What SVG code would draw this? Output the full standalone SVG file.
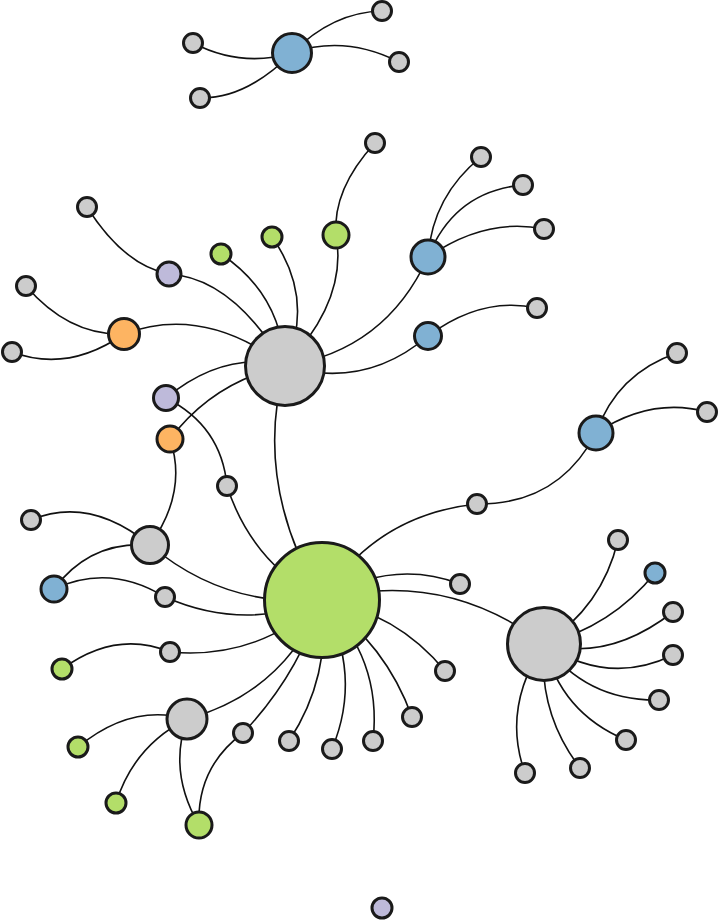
<svg xmlns="http://www.w3.org/2000/svg" width="720" height="921" viewBox="0 0 720 921">
<style>
.e{fill:none;stroke:#111;stroke-width:1.6}
circle{stroke:#1a1a1a;stroke-width:3}
.g{fill:#cccccc}.b{fill:#80b1d3}.gr{fill:#b3de69}.o{fill:#fdb462}.p{fill:#bebada}
</style>
<rect width="720" height="921" fill="#fff"/>
<g id="links">
<path class="e" d="M292,53 Q241.5,68 193,43"/>
<path class="e" d="M292,53 Q246,99 200,98"/>
<path class="e" d="M292,53 Q333,12 382,11"/>
<path class="e" d="M292,53 Q344.5,34.5 399,62"/>
<path class="e" d="M285,366 Q233,278 169,274"/>
<path class="e" d="M169,274 Q124,265.5 87,207"/>
<path class="e" d="M285,366 Q203.5,304 124,334"/>
<path class="e" d="M124,334 Q69,336 26,286"/>
<path class="e" d="M124,334 Q68,373 12,352"/>
<path class="e" d="M285,366 Q281,294 221,254"/>
<path class="e" d="M285,366 Q315.5,298.5 272,237"/>
<path class="e" d="M285,366 Q348,300 336,235"/>
<path class="e" d="M336,235 Q332.5,189 375,143"/>
<path class="e" d="M285,366 Q385.5,350.5 428,257"/>
<path class="e" d="M285,366 Q364.5,390 428,336"/>
<path class="e" d="M428,336 Q481.5,296 537,308"/>
<path class="e" d="M428,257 Q432.5,196 481,157"/>
<path class="e" d="M428,257 Q454.5,191 523,185"/>
<path class="e" d="M428,257 Q486,217 544,229"/>
<path class="e" d="M285,366 Q252.5,483 322,600"/>
<path class="e" d="M285,366 Q224.5,350 166,398"/>
<path class="e" d="M285,366 Q213.9,381 170,439"/>
<path class="e" d="M166,398 Q221.5,426 227,486"/>
<path class="e" d="M227,486 Q251.5,562 322,600"/>
<path class="e" d="M170,439 Q188,492 150,545"/>
<path class="e" d="M150,545 Q89.5,495.5 31,520"/>
<path class="e" d="M150,545 Q90,540.5 54,589"/>
<path class="e" d="M54,589 Q109.5,563 165,597"/>
<path class="e" d="M150,545 Q224.6,608 322,600"/>
<path class="e" d="M165,597 Q243.5,631.5 322,600"/>
<path class="e" d="M322,600 Q257.6,660 170,652"/>
<path class="e" d="M170,652 Q116,629.5 62,669"/>
<path class="e" d="M322,600 Q283.5,692.5 187,719"/>
<path class="e" d="M187,719 Q131.5,703 78,747"/>
<path class="e" d="M187,719 Q133.7,746 116,803"/>
<path class="e" d="M187,719 Q168,772 199,825"/>
<path class="e" d="M322,600 Q297.9,675.5 243,733"/>
<path class="e" d="M243,733 Q196.7,767.4 199,825"/>
<path class="e" d="M322,600 Q331.4,676.6 289,741"/>
<path class="e" d="M322,600 Q363,674.5 332,749"/>
<path class="e" d="M322,600 Q382.3,658 373,741"/>
<path class="e" d="M322,600 Q385.8,644 412,717"/>
<path class="e" d="M322,600 Q397,612.3 445,671"/>
<path class="e" d="M322,600 Q391,558 460,584"/>
<path class="e" d="M322,600 Q443.6,568 544,644"/>
<path class="e" d="M322,600 Q376.3,514.6 477,504"/>
<path class="e" d="M477,504 Q558.3,505 596,433"/>
<path class="e" d="M596,433 Q617,373.4 677,353"/>
<path class="e" d="M596,433 Q651.5,396.5 707,412"/>
<path class="e" d="M544,644 Q602.2,607 618,540"/>
<path class="e" d="M544,644 Q611.3,627 655,573"/>
<path class="e" d="M544,644 Q608.5,662 673,612"/>
<path class="e" d="M544,644 Q608.5,686.5 673,655"/>
<path class="e" d="M544,644 Q587,701.4 659,700"/>
<path class="e" d="M544,644 Q560.6,712.8 626,740"/>
<path class="e" d="M544,644 Q538,713 580,768"/>
<path class="e" d="M544,644 Q501.5,708.5 525,773"/>
</g>
<g id="n1"><circle class="b" cx="292" cy="53" r="19.5"/></g>
<g id="n2"><circle class="g" cx="193" cy="43" r="9.5"/></g>
<g id="n3"><circle class="g" cx="200" cy="98" r="9.5"/></g>
<g id="n4"><circle class="g" cx="382" cy="11" r="9.5"/></g>
<g id="n5"><circle class="g" cx="399" cy="62" r="9.5"/></g>
<g id="n6"><circle class="g" cx="285" cy="366" r="39.5"/></g>
<g id="n7"><circle class="p" cx="169" cy="274" r="12"/></g>
<g id="n8"><circle class="g" cx="87" cy="207" r="9.5"/></g>
<g id="n9"><circle class="g" cx="26" cy="286" r="9.5"/></g>
<g id="n10"><circle class="o" cx="124" cy="334" r="15.5"/></g>
<g id="n11"><circle class="g" cx="12" cy="352" r="9.5"/></g>
<g id="n12"><circle class="gr" cx="221" cy="254" r="10"/></g>
<g id="n13"><circle class="gr" cx="272" cy="237" r="10"/></g>
<g id="n14"><circle class="gr" cx="336" cy="235" r="13"/></g>
<g id="n15"><circle class="g" cx="375" cy="143" r="9.5"/></g>
<g id="n16"><circle class="b" cx="428" cy="257" r="17"/></g>
<g id="n17"><circle class="g" cx="481" cy="157" r="9.5"/></g>
<g id="n18"><circle class="g" cx="523" cy="185" r="9.5"/></g>
<g id="n19"><circle class="g" cx="544" cy="229" r="9.5"/></g>
<g id="n20"><circle class="b" cx="428" cy="336" r="13.5"/></g>
<g id="n21"><circle class="g" cx="537" cy="308" r="9.5"/></g>
<g id="n22"><circle class="p" cx="166" cy="398" r="12.5"/></g>
<g id="n23"><circle class="o" cx="170" cy="439" r="13"/></g>
<g id="n24"><circle class="g" cx="227" cy="486" r="9.5"/></g>
<g id="n25"><circle class="g" cx="150" cy="545" r="18.5"/></g>
<g id="n26"><circle class="g" cx="31" cy="520" r="9.5"/></g>
<g id="n27"><circle class="b" cx="54" cy="589" r="13"/></g>
<g id="n28"><circle class="g" cx="165" cy="597" r="9.5"/></g>
<g id="n29"><circle class="gr" cx="322" cy="600" r="57.5"/></g>
<g id="n30"><circle class="g" cx="170" cy="652" r="9.5"/></g>
<g id="n31"><circle class="gr" cx="62" cy="669" r="10"/></g>
<g id="n32"><circle class="g" cx="187" cy="719" r="20"/></g>
<g id="n33"><circle class="gr" cx="78" cy="747" r="10"/></g>
<g id="n34"><circle class="gr" cx="116" cy="803" r="10"/></g>
<g id="n35"><circle class="gr" cx="199" cy="825" r="13"/></g>
<g id="n36"><circle class="g" cx="243" cy="733" r="9.5"/></g>
<g id="n37"><circle class="g" cx="289" cy="741" r="9.5"/></g>
<g id="n38"><circle class="g" cx="332" cy="749" r="9.5"/></g>
<g id="n39"><circle class="g" cx="373" cy="741" r="9.5"/></g>
<g id="n40"><circle class="g" cx="412" cy="717" r="9.5"/></g>
<g id="n41"><circle class="g" cx="445" cy="671" r="9.5"/></g>
<g id="n42"><circle class="g" cx="460" cy="584" r="9.5"/></g>
<g id="n43"><circle class="g" cx="477" cy="504" r="9.5"/></g>
<g id="n44"><circle class="b" cx="596" cy="433" r="17"/></g>
<g id="n45"><circle class="g" cx="677" cy="353" r="9.5"/></g>
<g id="n46"><circle class="g" cx="707" cy="412" r="9.5"/></g>
<g id="n47"><circle class="g" cx="544" cy="644" r="36.5"/></g>
<g id="n48"><circle class="g" cx="618" cy="540" r="9.5"/></g>
<g id="n49"><circle class="b" cx="655" cy="573" r="10"/></g>
<g id="n50"><circle class="g" cx="673" cy="612" r="9.5"/></g>
<g id="n51"><circle class="g" cx="673" cy="655" r="9.5"/></g>
<g id="n52"><circle class="g" cx="659" cy="700" r="9.5"/></g>
<g id="n53"><circle class="g" cx="626" cy="740" r="9.5"/></g>
<g id="n54"><circle class="g" cx="580" cy="768" r="9.5"/></g>
<g id="n55"><circle class="g" cx="525" cy="773" r="9.5"/></g>
<g id="n56"><circle class="p" cx="382" cy="908" r="10"/></g>
</svg>
